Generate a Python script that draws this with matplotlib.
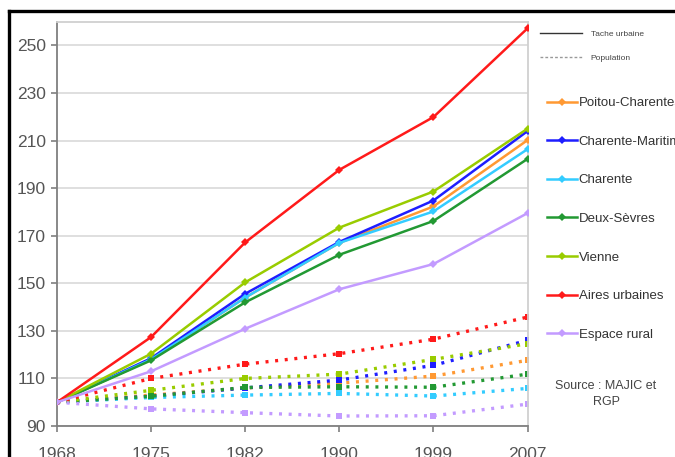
import matplotlib
matplotlib.use("Agg")
import matplotlib.pyplot as plt
from matplotlib.lines import Line2D

plt.rcParams['font.family'] = ['Liberation Sans', 'DejaVu Sans']

years = ["1968", "1975", "1982", "1990", "1999", "2007"]
series_names = ["Poitou-Charentes", "Charente-Maritime", "Charente", "Deux-Sèvres",
                "Vienne", "Aires urbaines", "Espace rural"]
colors = ["#FF9933", "#1E1EFF", "#33CCFF", "#229933", "#99CC00", "#FF1A1A", "#C39BFF"]

# Tache urbaine (solid)
tache_pc = [100, 118, 144, 167, 182.3, 210.2]
tache_cm = [100, 118.5, 145.6, 167.4, 184.8, 214]
tache_ch = [100, 118, 144, 167, 180.2, 206.4]
tache_ds = [100, 117.6, 142, 162, 176.2, 202.3]
tache_vi = [100, 120.4, 150.4, 173.4, 188.6, 215]
tache_au = [100, 127.4, 167.2, 197.7, 219.9, 257.2]
tache_er = [100, 113, 130.9, 147.5, 158.1, 179.5]

# Population (dotted)
pop_pc = [100, 103, 106, 108, 111, 117.6]
pop_cm = [100, 102.5, 106, 109.3, 115.5, 126]
pop_ch = [100, 102, 103, 103.7, 102.6, 105.8]
pop_ds = [100, 102.5, 106.2, 106.5, 106.3, 111.8]
pop_vi = [100, 105, 110, 111.8, 118, 124.6]
pop_au = [100, 110, 116, 120.4, 126.5, 135.8]
pop_er = [100, 97.2, 95.6, 94.2, 94.3, 99.2]

tache = [tache_pc, tache_cm, tache_ch, tache_ds, tache_vi, tache_au, tache_er]
pop = [pop_pc, pop_cm, pop_ch, pop_ds, pop_vi, pop_au, pop_er]

yticks = [90, 110, 130, 150, 170, 190, 210, 230, 250]

W, H = 675, 457
fig = plt.figure(figsize=(W / 100, H / 100), dpi=100)
ax = fig.add_axes([57 / W, (H - 426) / H, (527.5 - 57) / W, (426 - 21.7) / H])

x = list(range(len(years)))
for vals, c in zip(pop, colors):
    ax.plot(x, vals, color=c, lw=2.4, linestyle=(0, (0.9, 2.0)),
            marker='s', markersize=4.5, markeredgewidth=0, zorder=2)
for vals, c in zip(tache, colors):
    ax.plot(x, vals, color=c, lw=1.8, marker='D', markersize=4,
            markeredgewidth=0, zorder=3)

ax.set_xlim(0, len(years) - 1)
ax.set_ylim(90, 260)
ax.set_xticks(x)
ax.set_xticklabels(years)
ax.set_yticks(yticks)
ax.yaxis.grid(True, color="#dcdcdc", lw=1.3)
ax.set_axisbelow(True)
for s in ['top', 'right']:
    ax.spines[s].set_color("#d0d0d0")
    ax.spines[s].set_linewidth(1.3)
for s in ['left', 'bottom']:
    ax.spines[s].set_color("#7f7f7f")
    ax.spines[s].set_linewidth(1.3)
ax.tick_params(axis='both', colors="#7f7f7f", labelcolor="#555555", labelsize=12.5,
               length=4, width=1.2)
ax.tick_params(axis='x', pad=11)
ax.tick_params(axis='y', pad=4)

# Top legend (line types)
h1 = [Line2D([], [], color="#333333", lw=1.0),
      Line2D([], [], color="#999999", lw=1.0, linestyle=(0, (2, 1.5)))]
leg1 = fig.legend(h1, ["Tache urbaine", "Population"], loc='upper left',
                  bbox_to_anchor=(540 / W, 1 - 30 / H), frameon=False,
                  fontsize=6, handlelength=5.0, handletextpad=1.1,
                  labelspacing=1.9, borderaxespad=0, borderpad=0,
                  labelcolor="#444444")

# Series legend
h2 = [Line2D([], [], color=c, lw=1.8, marker='D', markersize=4, markeredgewidth=0)
      for c in colors]
leg2 = fig.legend(h2, series_names, loc='upper left',
                  bbox_to_anchor=(547 / W, 1 - 97 / H), frameon=False,
                  fontsize=9.5, handlelength=2.3, handletextpad=0.1,
                  labelspacing=2.0, borderaxespad=0, borderpad=0,
                  labelcolor="#333333")

fig.text(606 / W, 1 - 394 / H, "Source : MAJIC et\nRGP", ha='center', va='center',
         fontsize=9, color="#444444", linespacing=1.55)

# Outer black frame (top and left visible)
fig.add_artist(Line2D([9 / W, 1.05], [1 - 11 / H, 1 - 11 / H], color='black', lw=2.4,
                      transform=fig.transFigure, clip_on=False))
fig.add_artist(Line2D([9 / W, 9 / W], [-0.05, 1 - 11 / H], color='black', lw=2.4,
                      transform=fig.transFigure, clip_on=False))

fig.savefig("out.png", dpi=100)
